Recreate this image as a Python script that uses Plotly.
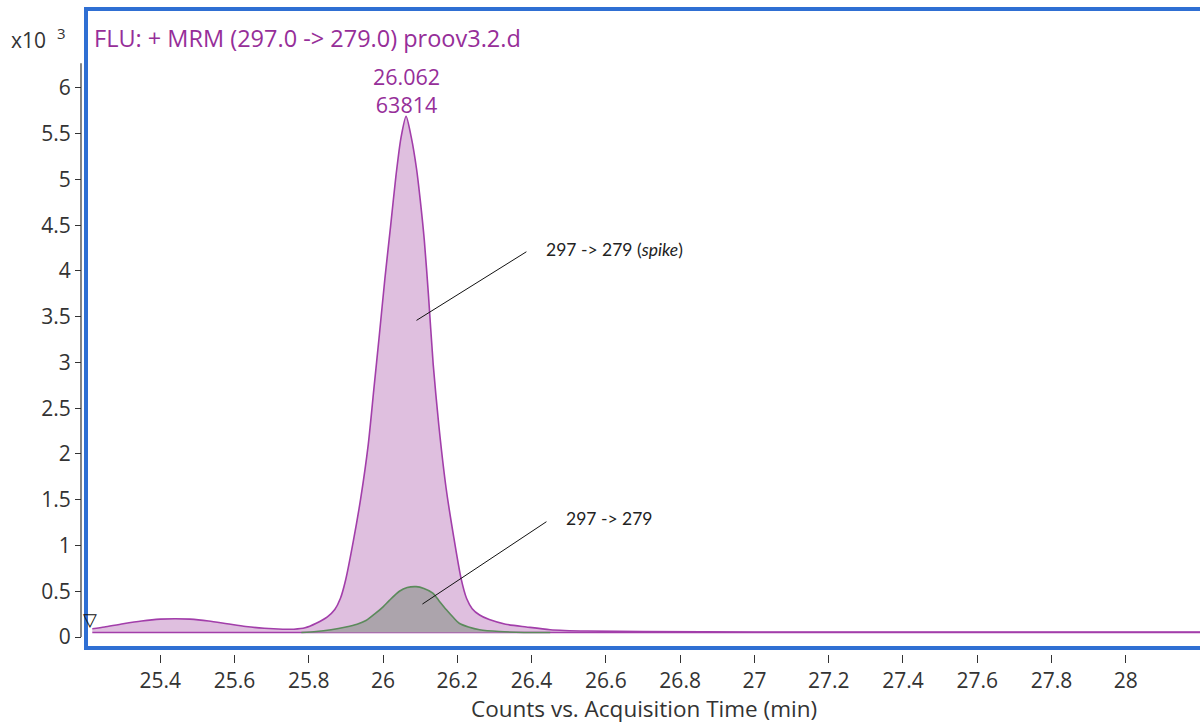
import plotly.graph_objects as go

# MRM chromatogram, 297 -> 279 transition (values in counts x10^3)
spike_time = [25.217, 25.25, 25.30, 25.35, 25.40, 25.44, 25.48, 25.53, 25.58, 25.63,
              25.68, 25.73, 25.76, 25.79, 25.82, 25.85, 25.87, 25.885, 25.899, 25.92,
              25.94, 25.96, 25.975, 25.99, 26.005, 26.02, 26.035, 26.048, 26.062, 26.076,
              26.09, 26.10, 26.111, 26.122, 26.135, 26.15, 26.17, 26.19, 26.21, 26.225,
              26.24, 26.26, 26.286, 26.33, 26.386, 26.45, 26.55, 26.7, 27.0, 27.5,
              28.0, 28.21]
spike_counts = [0.09, 0.11, 0.145, 0.175, 0.195, 0.20, 0.195, 0.175, 0.145, 0.115,
                0.095, 0.085, 0.085, 0.10, 0.15, 0.22, 0.30, 0.42, 0.62, 1.05,
                1.52, 2.10, 2.70, 3.30, 3.92, 4.48, 5.05, 5.45, 5.69, 5.46,
                5.12, 4.78, 4.34, 3.75, 2.98, 2.32, 1.62, 1.10, 0.64, 0.42,
                0.31, 0.24, 0.19, 0.14, 0.11, 0.08, 0.065, 0.06, 0.055, 0.055,
                0.055, 0.055]

sample_time = [25.78, 25.82, 25.86, 25.90, 25.93, 25.954, 25.98, 26.00, 26.017, 26.044,
               26.065, 26.089, 26.11, 26.134, 26.15, 26.17, 26.19, 26.205, 26.23, 26.26,
               26.313, 26.38, 26.45]
sample_counts = [0.05, 0.06, 0.08, 0.11, 0.14, 0.18, 0.26, 0.33, 0.40, 0.50,
                 0.54, 0.55, 0.53, 0.48, 0.40, 0.30, 0.21, 0.15, 0.11, 0.08,
                 0.06, 0.05, 0.05]

baseline = 0.05
peak_rt = 26.062
peak_area = 63814

x_tick_vals = [25.4, 25.6, 25.8, 26.0, 26.2, 26.4, 26.6, 26.8, 27.0, 27.2, 27.4, 27.6, 27.8, 28.0, 28.2]
x_tick_text = ["25.4", "25.6", "25.8", "26", "26.2", "26.4", "26.6", "26.8", "27", "27.2",
               "27.4", "27.6", "27.8", "28", ""]
y_tick_vals = [0, 0.5, 1, 1.5, 2, 2.5, 3, 3.5, 4, 4.5, 5, 5.5, 6]
y_tick_text = ["0", "0.5", "1", "1.5", "2", "2.5", "3", "3.5", "4", "4.5", "5", "5.5", "6"]

W, H = 1200, 724
ML, MR, MT, MB = 60, 0, 9, 40
PW, PH = W - ML - MR, H - MT - MB


def px(x):
    return (x - ML) / PW


def py(y):
    return (H - MB - y) / PH


X_DOM = [px(86), 1.0]
Y_DOM = [py(648), 1.0]
Y_RANGE = [-0.1202, 6.863]


def y_paper(v):
    return Y_DOM[0] + (v - Y_RANGE[0]) / (Y_RANGE[1] - Y_RANGE[0]) * (Y_DOM[1] - Y_DOM[0])


TEXT = "#333333"
PURPLE = "#962e99"
FONT = "Open Sans, Roboto, Arial, sans-serif"
NOTE_FONT = "Lato, Open Sans, sans-serif"
SMOOTH = 0.7

fig = go.Figure()

# spiked standard: baseline then filled peak trace
fig.add_trace(go.Scatter(x=[spike_time[0], spike_time[-1]], y=[baseline, baseline],
                         mode="lines", line=dict(color="#a23eaa", width=1.6),
                         hoverinfo="skip", showlegend=False))
fig.add_trace(go.Scatter(x=spike_time, y=spike_counts, mode="lines", fill="tonexty",
                         fillcolor="#dfbfdf",
                         line=dict(color="#a23eaa", width=1.6, shape="spline", smoothing=SMOOTH),
                         hoverinfo="skip", showlegend=False))

# sample trace
fig.add_trace(go.Scatter(x=[sample_time[0], sample_time[-1]], y=[baseline, baseline],
                         mode="lines", line=dict(color="rgba(0,0,0,0)", width=0),
                         hoverinfo="skip", showlegend=False))
fig.add_trace(go.Scatter(x=sample_time, y=sample_counts, mode="lines", fill="tonexty",
                         fillcolor="#aca4ac",
                         line=dict(color="#5b8a5b", width=1.6, shape="spline", smoothing=SMOOTH),
                         hoverinfo="skip", showlegend=False))

shapes = [
    # plot frame
    dict(type="rect", xref="paper", yref="paper", x0=X_DOM[0], x1=1.02, y0=Y_DOM[0], y1=1.0,
         line=dict(color="#2f6fd3", width=4), layer="above"),
    # y axis line
    dict(type="line", xref="paper", yref="paper", x0=px(81), x1=px(81),
         y0=y_paper(0), y1=y_paper(6.27), line=dict(color=TEXT, width=1.2)),
    # leader lines
    dict(type="line", xref="x", yref="y", x0=26.09, y0=3.46, x1=26.386, y1=4.21,
         line=dict(color="#111111", width=1)),
    dict(type="line", xref="x", yref="y", x0=26.106, y0=0.36, x1=26.44, y1=1.26,
         line=dict(color="#111111", width=1)),
]

peak_height = max(spike_counts)

annotations = [
    dict(text="x10", xref="paper", yref="paper", x=px(9), y=py(40), xanchor="left",
         yanchor="middle", showarrow=False, font=dict(family=FONT, size=21, color=TEXT)),
    dict(text="3", xref="paper", yref="paper", x=px(55), y=py(33), xanchor="left",
         yanchor="middle", showarrow=False, font=dict(family=FONT, size=15, color=TEXT)),
    dict(text="FLU: + MRM (297.0 -&gt; 279.0) proov3.2.d", xref="paper", yref="paper",
         x=px(92), y=py(38), xanchor="left", yanchor="middle", showarrow=False,
         font=dict(family=FONT, size=23.5, color=PURPLE)),
    dict(text=f"{peak_rt:.3f}<br>{peak_area}", xref="x", yref="y", x=peak_rt, y=peak_height,
         xanchor="center", yanchor="middle", yshift=26, showarrow=False,
         font=dict(family=FONT, size=21.5, color=PURPLE)),
    dict(text="Counts vs. Acquisition Time (min)", xref="paper", yref="paper",
         x=px(644), y=py(708), xanchor="center", yanchor="middle", showarrow=False,
         font=dict(family=FONT, size=22.5, color=TEXT)),
    dict(text="▽", xref="paper", yref="paper", x=px(90), y=py(619), xanchor="center",
         yanchor="middle", showarrow=False, font=dict(family="DejaVu Sans", size=18, color="#111111")),
    dict(text="297 -&gt; 279 (<i>spike</i>)", xref="x", yref="y", x=26.434, y=4.23,
         xanchor="left", yanchor="middle", showarrow=False,
         font=dict(family=NOTE_FONT, size=17.5, color="#222222")),
    dict(text="297 -&gt; 279", xref="x", yref="y", x=26.488, y=1.30,
         xanchor="left", yanchor="middle", showarrow=False,
         font=dict(family=NOTE_FONT, size=17.5, color="#222222")),
]

fig.update_layout(
    width=W, height=H,
    margin=dict(l=ML, r=MR, t=MT, b=MB, pad=0),
    paper_bgcolor="white", plot_bgcolor="white",
    font=dict(family=FONT, size=21, color=TEXT),
    xaxis=dict(domain=X_DOM, range=[25.2, 28.2], anchor="free", position=py(654),
               tickmode="array", tickvals=x_tick_vals, ticktext=x_tick_text,
               ticks="outside", ticklen=8, tickwidth=1.2, tickcolor=TEXT,
               showgrid=False, zeroline=False, showline=False,
               tickfont=dict(family=FONT, size=21, color=TEXT)),
    yaxis=dict(domain=Y_DOM, range=Y_RANGE, anchor="free", position=px(81),
               tickmode="array", tickvals=y_tick_vals, ticktext=y_tick_text,
               ticks="outside", ticklen=6, tickwidth=1.2, tickcolor=TEXT,
               showgrid=False, zeroline=False, showline=False,
               tickfont=dict(family=FONT, size=21, color=TEXT)),
    shapes=shapes,
    annotations=annotations,
)

fig.write_html("out.html")
